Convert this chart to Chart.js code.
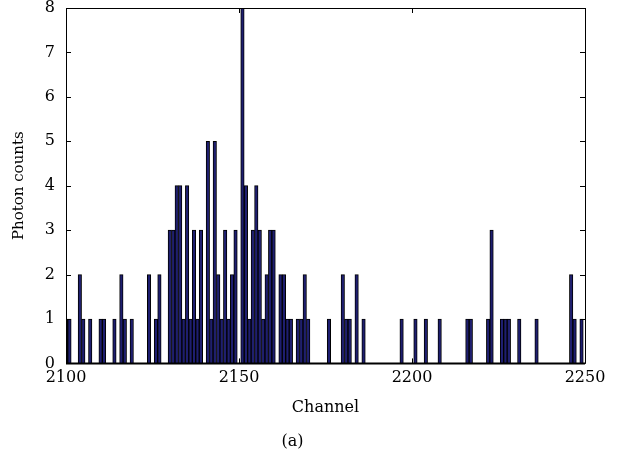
<!DOCTYPE html>
<html>
<head>
<meta charset="utf-8">
<script src="https://cdn.jsdelivr.net/npm/chart.js@4/dist/chart.umd.min.js"></script>
<style>
html,body{margin:0;padding:0;background:#fff;}
#wrap{width:627px;height:463px;position:relative;}
</style>
</head>
<body>
<div id="wrap"><canvas id="c" width="627" height="463"></canvas></div>
<script>
const channels = [2100,2101,2104,2105,2107,2110,2111,2114,2116,2117,2119,2124,2126,2127,2130,2131,2132,2133,2134,2135,2136,2137,2138,2139,2141,2142,2143,2144,2145,2146,2147,2148,2149,2151,2152,2153,2154,2155,2156,2157,2158,2159,2160,2162,2163,2164,2165,2167,2168,2169,2170,2176,2180,2181,2182,2184,2186,2197,2201,2204,2208,2216,2217,2222,2223,2226,2227,2228,2231,2236,2246,2247,2249];
const counts = [1,1,2,1,1,1,1,1,2,1,1,2,1,2,3,3,4,4,1,4,1,3,1,3,5,1,5,2,1,3,1,2,3,8,4,1,3,4,3,1,2,3,3,2,2,1,1,1,1,2,1,1,2,1,1,2,1,1,1,1,1,1,1,1,3,1,1,1,1,1,2,1,1];
const xTicks = [2100,2150,2200,2250];
const yTicks = [0,1,2,3,4,5,6,7,8];
const xLabel = 'Channel';
const yLabel = 'Photon counts';
const caption = '(a)';

const serif = '"DejaVu Serif", "Liberation Serif", serif';

const boxTicks = {
  id: 'boxTicks',
  afterDatasetsDraw(chart) {
    const ctx = chart.ctx, a = chart.chartArea;
    const xs = chart.scales.x, ys = chart.scales.y;
    ctx.save();
    ctx.strokeStyle = '#000';
    ctx.lineWidth = 1;
    ctx.beginPath();
    ctx.rect(Math.round(a.left) + 0.5, Math.round(a.top) + 0.5, Math.round(a.right - a.left), Math.round(a.bottom - a.top));
    ctx.stroke();
    const L = 5;
    ctx.beginPath();
    yTicks.forEach(v => {
      const y = Math.round(ys.getPixelForValue(v)) + 0.5;
      ctx.moveTo(a.left, y); ctx.lineTo(a.left + L, y);
      ctx.moveTo(a.right, y); ctx.lineTo(a.right - L, y);
    });
    xTicks.forEach(v => {
      const x = Math.round(xs.getPixelForValue(v)) + 0.5;
      ctx.moveTo(x, a.bottom); ctx.lineTo(x, a.bottom - L);
      ctx.moveTo(x, a.top); ctx.lineTo(x, a.top + L);
    });
    ctx.stroke();
    ctx.lineWidth = 2;
    ctx.beginPath();
    ctx.moveTo(a.left, a.bottom); ctx.lineTo(a.right, a.bottom);
    ctx.stroke();
    ctx.restore();
  }
};

new Chart(document.getElementById('c'), {
  type: 'bar',
  data: {
    datasets: [{
      data: channels.map((c, i) => ({x: c, y: counts[i]})),
      backgroundColor: '#1e1e70',
      borderColor: '#000',
      borderWidth: 1,
      borderSkipped: 'start',
      barPercentage: 1,
      categoryPercentage: 1,
      clip: 0
    }]
  },
  options: {
    responsive: false,
    animation: false,
    devicePixelRatio: 1,
    layout: { padding: { left: 0, top: 8, right: 42, bottom: 6 } },
    plugins: {
      legend: { display: false },
      tooltip: { enabled: false },
      title: {
        display: true, position: 'bottom', text: caption, color: '#000',
        font: { family: serif, size: 16, weight: 'normal' }, padding: { top: 14, bottom: 6 }
      }
    },
    scales: {
      x: {
        type: 'linear', min: 2100, max: 2250, offset: false,
        afterBuildTicks: s => { s.ticks = xTicks.map(v => ({value: v})); },
        afterFit: s => { s.paddingLeft = 0; s.paddingRight = 0; },
        grid: { display: false, drawTicks: false, tickLength: 0 }, border: { display: false },
        ticks: { color: '#000', font: { family: serif, size: 16 }, padding: 5, maxRotation: 0,
                 callback: v => String(v) },
        title: { display: true, text: xLabel, color: '#000', font: { family: serif, size: 16 }, padding: { top: 6, bottom: 0 } }
      },
      y: {
        min: 0, max: 8,
        afterBuildTicks: s => { s.ticks = yTicks.map(v => ({value: v})); },
        afterFit: s => { s.width = 66; s.paddingTop = 0; s.paddingBottom = 0; },
        grid: { display: false, drawTicks: false, tickLength: 0 }, border: { display: false },
        ticks: { color: '#000', font: { family: serif, size: 16 }, padding: 11, callback: v => String(v) },
        title: { display: true, text: yLabel, color: '#000', font: { family: serif, size: 15 }, padding: { top: 10, bottom: 0 } }
      }
    }
  },
  plugins: [boxTicks]
});
</script>
</body>
</html>
